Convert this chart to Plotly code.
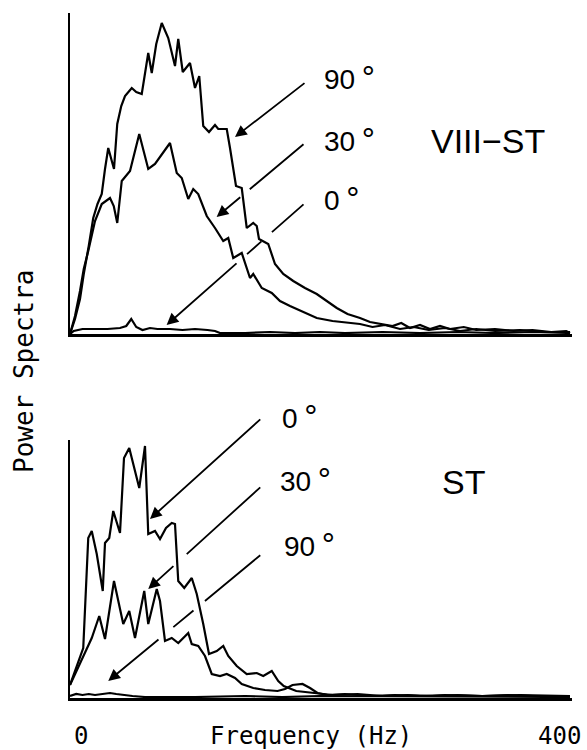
import plotly.graph_objects as go

# ---------------- data (Hz, relative power) ----------------
# Upper panel: VIII-ST
top_90_hz = [0, 4, 8, 11, 15, 18.6, 22, 25.4, 28, 30.6, 33, 35.2, 37.8, 41, 44, 49.4, 53, 57.4,
             62.6, 65.4, 69, 73.4, 78.6, 84, 86.6, 90.2, 96, 100, 103.4, 106.6, 111.2, 116, 118.6,
             125.4, 128, 132.8, 137.4, 141.4, 146.6, 149.4, 151.2, 158.6, 164, 170.6, 178.6, 188,
             197.4, 205, 213.4, 222, 232, 240, 250.4, 258, 265, 272, 280, 288, 296, 304, 315, 325,
             340, 355, 370, 385, 397, 400]
top_90_pw = [0, 15, 35, 60, 88, 116, 130, 140, 165, 186, 175, 165, 210, 228, 238, 246, 242, 240,
             281, 261, 290, 311, 296, 268, 295, 262, 271, 246, 258, 208, 202, 209, 205,
             205, 186, 148, 146, 106, 111, 108, 95, 90, 70, 60, 53, 46,
             40, 33, 26, 20, 16, 12, 10, 8, 11, 6, 9, 5, 8, 5, 7, 4,
             5, 3, 4, 2, 3, 1]

top_30_hz = [0, 4, 8, 11, 14.6, 20, 25.4, 32, 35, 37.8, 41.4, 48, 55.4, 62.6, 68, 74, 80, 85.4,
             89.4, 94.6, 98.6, 102.6, 109.4, 116, 122.6, 126.6, 130.6, 137.4, 144, 146.6, 153.4,
             161.4, 168, 176, 183, 190.6, 197.4, 210, 222, 232, 242, 252, 264, 275, 287, 300,
             312, 325, 340, 360, 380, 400]
top_30_pw = [0, 18, 43, 65, 83, 113, 130, 136, 128, 111, 153, 163, 200, 165, 170, 181, 191, 161,
             156, 135, 145, 140, 118, 106, 93, 96, 76, 81, 56, 60, 46,
             41, 33, 28, 24, 20, 16, 13, 11, 10, 7, 9, 5, 7, 4, 6,
             3, 5, 3, 4, 2, 2]

top_0_hz = [0, 3, 10, 20, 30, 40, 45, 49, 53, 58, 64, 70, 80, 90, 100, 110, 116, 120, 140, 160,
            180, 200, 220, 250, 280, 310, 340, 370, 400]
top_0_pw = [0, 3, 5, 5, 5, 6, 8, 15, 7, 4, 6, 5, 5, 4, 5, 4, 3, 1, 1, 2,
            1, 2, 1, 2, 1, 2, 1, 2, 1]

# Lower panel: ST
bot_0_hz = [0, 5, 10.6, 14.6, 17.4, 21.4, 26.2, 28, 31.4, 34.6, 40, 43.2, 47.4, 55.4, 60, 62.6,
            68, 72, 76.8, 81.4, 84, 86.6, 91.4, 97.4, 101.4, 106.6, 111.2, 117.4, 122.6, 126.6,
            133.4, 141.4, 149.4, 154.6, 161.4, 166.6, 171, 181, 197, 210, 230, 250, 270, 290,
            310, 330, 350, 370, 400]
bot_0_pw = [13, 30, 50, 160, 167, 144, 107, 155, 160, 187, 165, 240, 250, 210, 252, 164,
            167, 159, 170, 175, 174, 117, 110, 120, 104, 74, 44, 47, 52, 42,
            32, 24, 25, 22, 27, 17, 12, 7, 5, 3, 4, 2, 3, 2,
            3, 2, 3, 2, 2]

bot_30_hz = [0, 8, 17.4, 23.4, 28, 35.2, 42.6, 47.4, 52, 59.4, 62.6, 69.4, 72, 76, 81.4, 86.6,
             94.6, 97.4, 102.6, 108, 113.4, 120, 125.4, 132, 137.4, 146.6, 156, 166, 172, 178,
             186, 192, 198, 206, 220, 240, 260, 280, 300, 330, 360, 400]
bot_30_pw = [13, 34, 60, 82, 59, 117, 74, 87, 60, 107, 74, 109, 97, 57, 60, 55,
             65, 54, 52, 42, 24, 22, 24, 20, 14, 10, 8, 7, 9, 13,
             14, 10, 5, 3, 4, 2, 3, 2, 3, 2, 3, 2]

bot_90_hz = [0, 5, 10, 15, 20, 27, 32, 37, 42, 50, 60, 80, 100, 140, 170, 200, 400]
bot_90_pw = [2, 4, 3, 4, 3, 4, 5, 4, 3, 2, 1, 1, 1, 2, 1, 2, 1]

# Arrow (tail -> head) in data units, with gaps (fractions along the arrow from the tail)
top_arrows = [((188.8, 252), (132, 197), []),
              ((188, 191), (117.3, 117), [(0.625, 0.716)]),
              ((188, 131), (77.3, 9), [(0.239, 0.304), (0.419, 0.484)])]
bot_arrows = [((153.4, 280), (64, 179), []),
              ((153.4, 212), (62.6, 109), [(0.661, 0.765)]),
              ((153.4, 144), (30.6, 17), [(0.37, 0.435), (0.576, 0.663)])]

top_labels = [("90", 201.4, 256), ("30", 201.4, 195), ("0", 201.4, 136)]
bot_labels = [("0", 168, 282), ("30", 166.4, 219), ("90", 169.4, 153)]

W, H = 587, 750
XDOM = [70 / W, 572 / W]
XRANGE = [0, 401.6]
TOP_YDOM, TOP_YRANGE = [1 - 334 / H, 1 - 13 / H], [0, 321]
BOT_YDOM, BOT_YRANGE = [1 - 698 / H, 1 - 440 / H], [0, 258]

fig = go.Figure()
line = dict(color="black", width=2.2)
for hz, pw in [(top_90_hz, top_90_pw), (top_30_hz, top_30_pw), (top_0_hz, top_0_pw)]:
    fig.add_trace(go.Scatter(x=hz, y=pw, mode="lines", line=line, xaxis="x", yaxis="y",
                             showlegend=False, hoverinfo="skip"))
for hz, pw in [(bot_0_hz, bot_0_pw), (bot_30_hz, bot_30_pw), (bot_90_hz, bot_90_pw)]:
    fig.add_trace(go.Scatter(x=hz, y=pw, mode="lines", line=line, xaxis="x2", yaxis="y2",
                             showlegend=False, hoverinfo="skip"))

ax_common = dict(showgrid=False, zeroline=False, showticklabels=False, ticks="",
                 showline=True, linecolor="black", fixedrange=True)
fig.update_layout(
    width=W, height=H, margin=dict(l=0, r=0, t=0, b=0),
    paper_bgcolor="white", plot_bgcolor="white",
    xaxis=dict(domain=XDOM, range=XRANGE, linewidth=3, anchor="y", **ax_common),
    yaxis=dict(domain=TOP_YDOM, range=TOP_YRANGE, linewidth=2, anchor="x", **ax_common),
    xaxis2=dict(domain=XDOM, range=XRANGE, linewidth=3, anchor="y2", **ax_common),
    yaxis2=dict(domain=BOT_YDOM, range=BOT_YRANGE, linewidth=2, anchor="x2", **ax_common),
)


def to_paper(x, y, ydom, yrange):
    px = XDOM[0] + (x - XRANGE[0]) / (XRANGE[1] - XRANGE[0]) * (XDOM[1] - XDOM[0])
    py = ydom[0] + (y - yrange[0]) / (yrange[1] - yrange[0]) * (ydom[1] - ydom[0])
    return px, py


annotations = []


def add_arrow(tail, head, gaps, xr, yr):
    (tx, ty), (hx, hy) = tail, head
    cuts = [0.0]
    for g0, g1 in gaps:
        cuts += [g0, g1]
    cuts.append(1.0)
    segs = [(cuts[i], cuts[i + 1]) for i in range(0, len(cuts), 2)]
    for i, (f0, f1) in enumerate(segs):
        x0, y0 = tx + (hx - tx) * f0, ty + (hy - ty) * f0
        x1, y1 = tx + (hx - tx) * f1, ty + (hy - ty) * f1
        last = i == len(segs) - 1
        annotations.append(dict(
            x=x1, y=y1, ax=x0, ay=y0, xref=xr, yref=yr, axref=xr, ayref=yr,
            text="", showarrow=True, arrowhead=2 if last else 0, arrowsize=1.3,
            arrowwidth=1.8, arrowcolor="black"))


for t, h, g in top_arrows:
    add_arrow(t, h, g, "x", "y")
for t, h, g in bot_arrows:
    add_arrow(t, h, g, "x2", "y2")

lab_font = dict(family="Liberation Sans, Arial, sans-serif", size=28, color="black")
deg = "<span style='font-size:33px'>\u2009°</span>"
for labels, ydom, yrange in [(top_labels, TOP_YDOM, TOP_YRANGE), (bot_labels, BOT_YDOM, BOT_YRANGE)]:
    for txt, x, y in labels:
        px, py = to_paper(x, y, ydom, yrange)
        annotations.append(dict(text=txt + deg, x=px, y=py, xref="paper", yref="paper",
                                xanchor="left", yanchor="middle", showarrow=False, font=lab_font))

big_font = dict(family="Liberation Sans, Arial, sans-serif", size=34, color="black")
annotations.append(dict(text="VIII−ST", x=334.4, y=193, xref="x", yref="y", showarrow=False,
                        xanchor="center", yanchor="middle", font=big_font))
annotations.append(dict(text="ST", x=314.4, y=216, xref="x2", yref="y2", showarrow=False,
                        xanchor="center", yanchor="middle", font=big_font))

mono = dict(family="DejaVu Sans Mono, monospace", size=24, color="black")
annotations.append(dict(text="0", x=81 / W, y=1 - 736 / H, xref="paper", yref="paper",
                        showarrow=False, xanchor="center", yanchor="middle", font=mono))
annotations.append(dict(text="400", x=559 / W, y=1 - 736 / H, xref="paper", yref="paper",
                        showarrow=False, xanchor="center", yanchor="middle", font=mono))
annotations.append(dict(text="Frequency (Hz)", x=310.5 / W, y=1 - 736 / H, xref="paper",
                        yref="paper", showarrow=False, xanchor="center", yanchor="middle",
                        font=mono))
annotations.append(dict(text="Power Spectra", x=24 / W, y=1 - 371 / H, xref="paper",
                        yref="paper", showarrow=False, xanchor="center", yanchor="middle",
                        textangle=-90, font=dict(mono, size=26)))

fig.update_layout(annotations=annotations)
fig.write_html("out.html")
